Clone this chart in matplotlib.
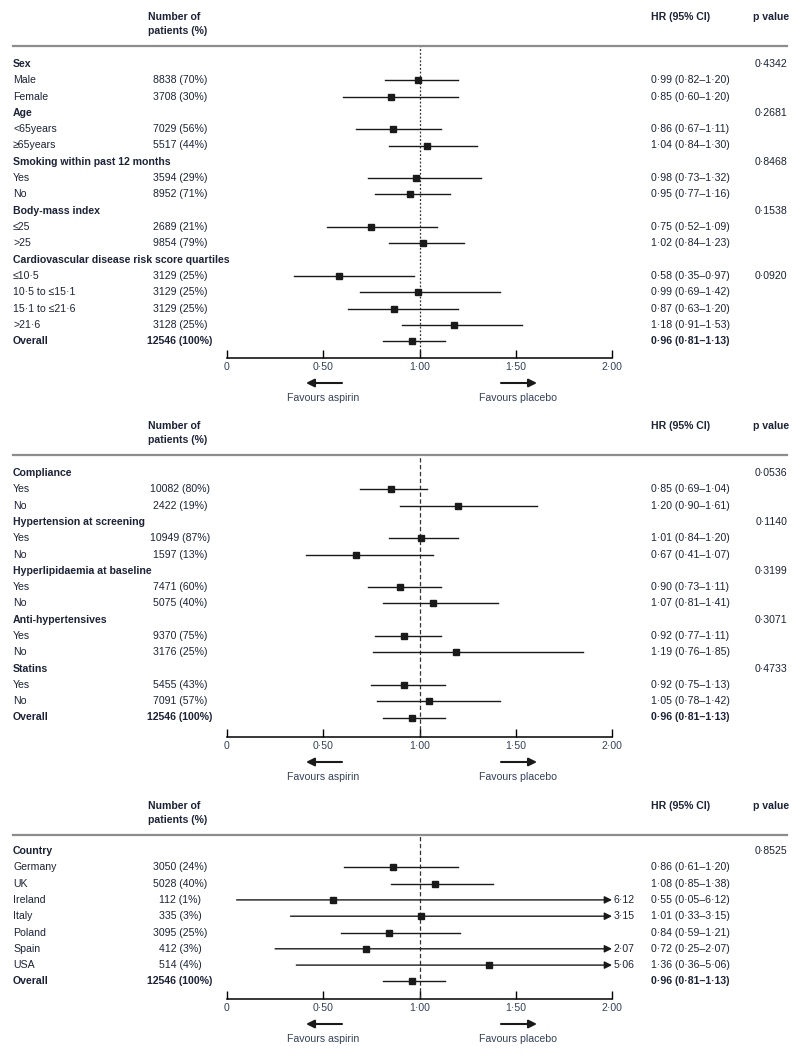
import matplotlib.pyplot as plt
from matplotlib.lines import Line2D
from matplotlib.patches import FancyArrowPatch
from matplotlib.transforms import blended_transform_factory

plt.rcParams['font.family'] = ['Liberation Sans Narrow', 'Liberation Sans', 'DejaVu Sans']

# ---- data: panel 1 ----
p1_labels = ['Sex', 'Male', 'Female', 'Age', '<65years', '≥65years',
             'Smoking within past 12 months', 'Yes', 'No', 'Body-mass index', '≤25', '>25',
             'Cardiovascular disease risk score quartiles', '≤10·5', '10·5 to ≤15·1',
             '15·1 to ≤21·6', '>21·6', 'Overall']
p1_n = [None, 8838, 3708, None, 7029, 5517, None, 3594, 8952, None, 2689, 9854,
        None, 3129, 3129, 3129, 3128, 12546]
p1_pct = [None, 70, 30, None, 56, 44, None, 29, 71, None, 21, 79,
          None, 25, 25, 25, 25, 100]
p1_hr = [None, 0.99, 0.85, None, 0.86, 1.04, None, 0.98, 0.95, None, 0.75, 1.02,
         None, 0.58, 0.99, 0.87, 1.18, 0.96]
p1_lo = [None, 0.82, 0.60, None, 0.67, 0.84, None, 0.73, 0.77, None, 0.52, 0.84,
         None, 0.35, 0.69, 0.63, 0.91, 0.81]
p1_hi = [None, 1.20, 1.20, None, 1.11, 1.30, None, 1.32, 1.16, None, 1.09, 1.23,
         None, 0.97, 1.42, 1.20, 1.53, 1.13]
p1_p = ['0·4342', None, None, '0·2681', None, None, '0·8468', None, None, '0·1538', None, None,
        None, '0·0920', None, None, None, None]

# ---- data: panel 2 ----
p2_labels = ['Compliance', 'Yes', 'No', 'Hypertension at screening', 'Yes', 'No',
             'Hyperlipidaemia at baseline', 'Yes', 'No', 'Anti-hypertensives', 'Yes', 'No',
             'Statins', 'Yes', 'No', 'Overall']
p2_n = [None, 10082, 2422, None, 10949, 1597, None, 7471, 5075, None, 9370, 3176,
        None, 5455, 7091, 12546]
p2_pct = [None, 80, 19, None, 87, 13, None, 60, 40, None, 75, 25, None, 43, 57, 100]
p2_hr = [None, 0.85, 1.20, None, 1.01, 0.67, None, 0.90, 1.07, None, 0.92, 1.19,
         None, 0.92, 1.05, 0.96]
p2_lo = [None, 0.69, 0.90, None, 0.84, 0.41, None, 0.73, 0.81, None, 0.77, 0.76,
         None, 0.75, 0.78, 0.81]
p2_hi = [None, 1.04, 1.61, None, 1.20, 1.07, None, 1.11, 1.41, None, 1.11, 1.85,
         None, 1.13, 1.42, 1.13]
p2_p = ['0·0536', None, None, '0·1140', None, None, '0·3199', None, None, '0·3071', None, None,
        '0·4733', None, None, None]

# ---- data: panel 3 ----
p3_labels = ['Country', 'Germany', 'UK', 'Ireland', 'Italy', 'Poland', 'Spain', 'USA', 'Overall']
p3_n = [None, 3050, 5028, 112, 335, 3095, 412, 514, 12546]
p3_pct = [None, 24, 40, 1, 3, 25, 3, 4, 100]
p3_hr = [None, 0.86, 1.08, 0.55, 1.01, 0.84, 0.72, 1.36, 0.96]
p3_lo = [None, 0.61, 0.85, 0.05, 0.33, 0.59, 0.25, 0.36, 0.81]
p3_hi = [None, 1.20, 1.38, 6.12, 3.15, 1.21, 2.07, 5.06, 1.13]
p3_p = ['0·8525', None, None, None, None, None, None, None, None]

x_ticks = [0, 0.5, 1.0, 1.5, 2.0]
x_ticklabels = ['0', '0·50', '1·00', '1·50', '2·00']

# ---- layout (pixels) ----
W, H = 800, 1058
ROW = 16.3
TXT = '#1c2338'
TICKC = '#33415c'
FS = 7.6


def fx(px):
    return px / W


def fy(py):
    return 1 - py / H


def num(v):
    return f'{v:.2f}'.replace('.', '·')


fig = plt.figure(figsize=(8, 10.58), dpi=100)


def draw_panel(labels, n, pct, hr, lo, hi, pv, first_px, header_px, axis_px, ref_ls):
    ax = fig.add_axes([fx(227), fy(axis_px), fx(612) - fx(227), (axis_px - header_px) / H])
    ax.set_xlim(0, 2)
    ax.set_ylim((axis_px - first_px) / ROW, (header_px - first_px) / ROW)
    for s in ['top', 'left', 'right']:
        ax.spines[s].set_visible(False)
    ax.spines['bottom'].set_linewidth(1.1)
    ax.set_yticks([])
    ax.set_xticks(x_ticks)
    ax.set_xticklabels(x_ticklabels, fontsize=FS, color=TICKC)
    ax.tick_params(axis='x', direction='in', length=6, width=1.0, pad=3)
    ax.patch.set_alpha(0)

    ax.axvline(1.0, color='#333333', lw=0.9, ls=ref_ls)

    tr = blended_transform_factory(fig.transFigure, ax.transData)

    for i, lab in enumerate(labels):
        header = n[i] is None
        overall = lab == 'Overall'
        wt = 'bold' if (header or overall) else 'normal'
        ax.text(fx(13), i, lab, transform=tr, ha='left', va='center', fontsize=FS,
                fontweight=wt, color=TXT)
        if pv[i] is not None:
            ax.text(fx(787), i, pv[i], transform=tr, ha='right', va='center', fontsize=FS,
                    color=TXT)
        if header:
            continue
        ax.text(fx(180), i, f'{n[i]} ({pct[i]}%)', transform=tr, ha='center', va='center',
                fontsize=FS, fontweight=wt, color=TXT)
        ax.text(fx(651), i, f'{num(hr[i])} ({num(lo[i])}–{num(hi[i])})', transform=tr,
                ha='left', va='center', fontsize=FS, fontweight=wt, color=TXT)
        if hi[i] > 2:
            # CI runs off the scale: arrow to the axis end, upper limit written beside it
            ax.annotate('', xy=(2.0, i), xytext=(lo[i], i),
                        arrowprops=dict(arrowstyle='-|>', lw=1.0, color='#1a1a1a',
                                        shrinkA=0, shrinkB=0, mutation_scale=11))
            ax.text(fx(614), i, num(hi[i]), transform=tr, ha='left', va='center',
                    fontsize=FS, color=TXT)
        else:
            ax.plot([lo[i], hi[i]], [i, i], color='#1a1a1a', lw=1.0, clip_on=False)
        ax.plot([hr[i]], [i], 's', ms=3.8, color='#1a1a1a', clip_on=False)

    # header
    fig.add_artist(Line2D([fx(13), fx(787)], [fy(header_px)] * 2, color='#8c8c8c', lw=1.6))
    fig.text(fx(148), fy(header_px - 29), 'Number of', ha='left', va='center', fontsize=FS,
             fontweight='bold', color=TXT)
    fig.text(fx(148), fy(header_px - 15), 'patients (%)', ha='left', va='center', fontsize=FS,
             fontweight='bold', color=TXT)
    fig.text(fx(651), fy(header_px - 29), 'HR (95% CI)', ha='left', va='center', fontsize=FS,
             fontweight='bold', color=TXT)
    fig.text(fx(753), fy(header_px - 29), 'p value', ha='left', va='center', fontsize=FS,
             fontweight='bold', color=TXT)

    # favours arrows
    ya = fy(axis_px + 25)
    for x0, x1 in [(342, 306), (501, 537)]:
        fig.add_artist(FancyArrowPatch((fx(x0), ya), (fx(x1), ya), transform=fig.transFigure,
                                       arrowstyle='-|>', mutation_scale=12, lw=1.5,
                                       color='#1a1a1a', shrinkA=0, shrinkB=0))
    fig.text(fx(323), fy(axis_px + 40), 'Favours aspirin', ha='center', va='center',
             fontsize=FS, color=TICKC)
    fig.text(fx(518), fy(axis_px + 40), 'Favours placebo', ha='center', va='center',
             fontsize=FS, color=TICKC)
    return ax


draw_panel(p1_labels, p1_n, p1_pct, p1_hr, p1_lo, p1_hi, p1_p, 64, 46, 358, (0, (1.5, 1.5)))
draw_panel(p2_labels, p2_n, p2_pct, p2_hr, p2_lo, p2_hi, p2_p, 473, 455, 737, (0, (3.5, 2)))
draw_panel(p3_labels, p3_n, p3_pct, p3_hr, p3_lo, p3_hi, p3_p, 851, 835, 999, (0, (3.5, 2)))

fig.savefig('out.png', dpi=100, facecolor='white')
